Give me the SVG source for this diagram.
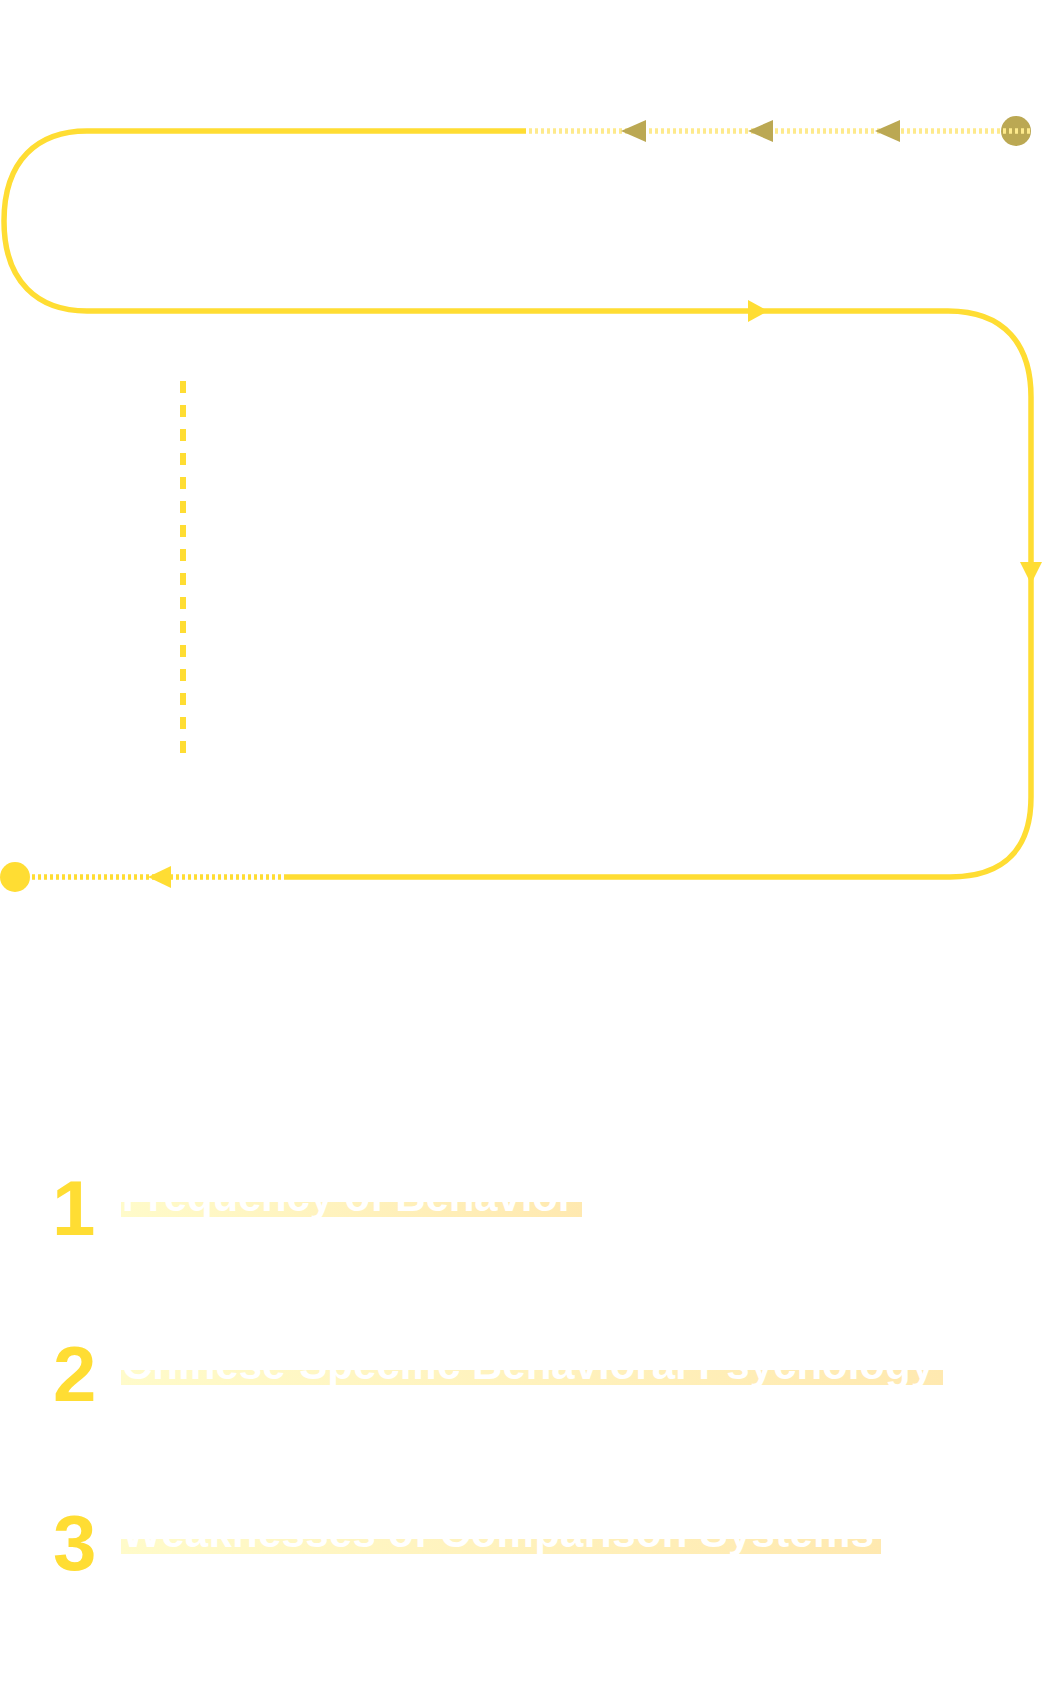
<svg xmlns="http://www.w3.org/2000/svg" width="1042" height="1681" viewBox="0 0 1042 1681">
  <defs>
    <linearGradient id="hl" x1="0" y1="0" x2="1" y2="0">
      <stop offset="0" stop-color="#FFFBCA"/>
      <stop offset="1" stop-color="#FFE9B0"/>
    </linearGradient>
    <style>
      .solid { fill: none; stroke: #FFDD33; stroke-width: 5.5; }
      .dot { fill: none; stroke-width: 5.5; stroke-dasharray: 3 3; }
      .dash { fill: none; stroke: #FFDD33; stroke-width: 6; stroke-dasharray: 12 12; }
      .num { font-family: "Liberation Sans", Arial, sans-serif; font-weight: bold; font-size: 78px; fill: #FFDD33; }
      .lbl { font-family: "Liberation Sans", Arial, sans-serif; font-weight: bold; font-size: 42px; fill: #FFFFFF; }
    </style>
  </defs>
  <rect width="1042" height="1681" fill="#FFFFFF"/>

  <g id="connectors">
    <!-- top ghost segment -->
    <circle cx="1016" cy="131" r="15" fill="#BBA853"/>
    <path class="dot" stroke="#FEEA8C" d="M1030 131 L526 131"/>
    <polygon fill="#BBA853" points="621,131 646,120 646,142"/>
    <polygon fill="#BBA853" points="748,131 773,120 773,142"/>
    <polygon fill="#BBA853" points="875,131 900,120 900,142"/>
    <!-- main path -->
    <path class="solid" d="M526 131 L87 131 C38 131 4 160 4 221 C4 282 38 311 87 311 L948 311 C1005 311 1031 345 1031 397 L1031 797 C1031 848 1005 877 950 877 L287 877"/>
    <polygon fill="#FFDD33" points="768,311 748,300 748,322"/>
    <polygon fill="#FFDD33" points="1031,584 1020,562 1042,562"/>
    <!-- bottom dotted end -->
    <path class="dot" stroke="#FFDD33" d="M287 877 L15 877"/>
    <polygon fill="#FFDD33" points="148,877 171,866 171,888"/>
    <circle cx="15" cy="877" r="15" fill="#FFDD33"/>
    <!-- vertical dashed line -->
    <path class="dash" d="M183 381 L183 753"/>
  </g>

  <g id="item-1">
    <text class="num" x="52" y="1235">1</text>
    <rect x="121" y="1202" width="461" height="15" fill="url(#hl)"/>
    <text class="lbl" x="122" y="1211" textLength="452" lengthAdjust="spacing">Frequency of Behavior</text>
  </g>
  <g id="item-2">
    <text class="num" x="53" y="1401">2</text>
    <rect x="121" y="1370" width="822" height="15" fill="url(#hl)"/>
    <text class="lbl" x="122" y="1378.5" textLength="812" lengthAdjust="spacing">Chinese-Specific Behavioral Psychology</text>
  </g>
  <g id="item-3">
    <text class="num" x="53" y="1570">3</text>
    <rect x="121" y="1539" width="760" height="15" fill="url(#hl)"/>
    <text class="lbl" x="122" y="1547" textLength="752" lengthAdjust="spacing">Weaknesses of Comparison Systems</text>
  </g>
</svg>
